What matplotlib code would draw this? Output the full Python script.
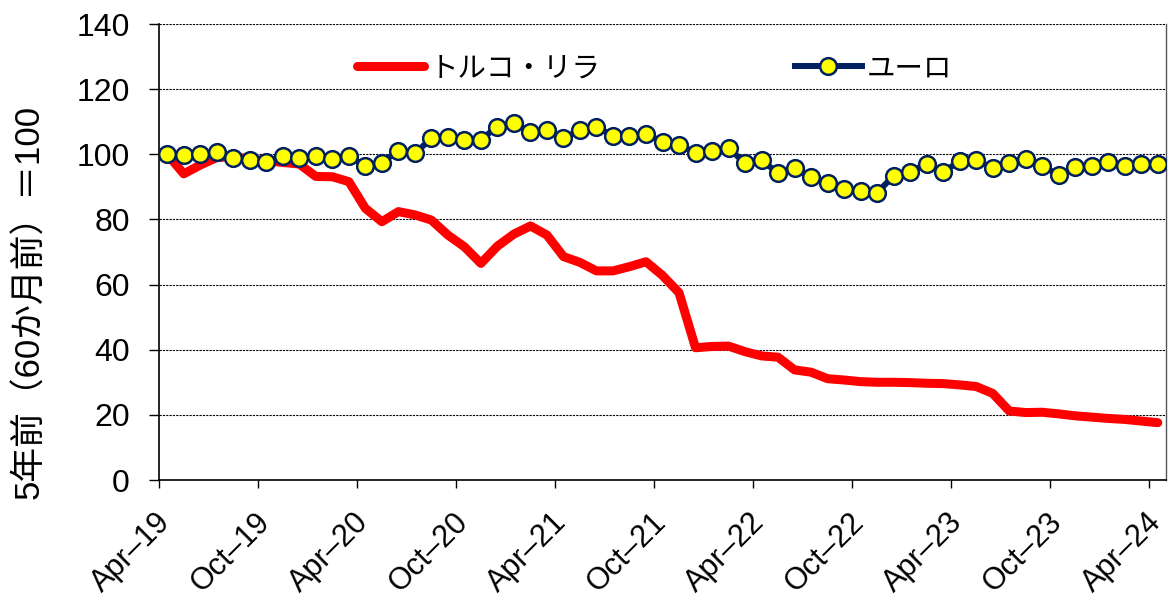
import matplotlib
matplotlib.use("Agg")
import matplotlib.pyplot as plt
import matplotlib.transforms as mtransforms
import numpy as np

plt.rcParams['font.family'] = ['Liberation Sans', 'Noto Sans CJK JP', 'DejaVu Sans']

# Monthly index, Apr-2019 .. Apr-2024 (61 months), 5 years ago = 100
try_lira = [100.0, 94.0, 96.7, 99.0, 99.3, 98.5, 98.0, 97.5, 97.0, 93.2,
            93.1, 91.6, 83.4, 79.3, 82.4, 81.4, 79.8, 75.2, 71.6, 66.5,
            71.8, 75.5, 78.0, 75.2, 68.6, 66.8, 64.2, 64.2, 65.5, 67.0,
            62.8, 57.5, 40.6, 41.0, 41.1, 39.4, 38.1, 37.7, 33.8, 33.1,
            31.1, 30.7, 30.2, 30.0, 30.0, 29.9, 29.7, 29.6, 29.2, 28.7,
            26.6, 21.2, 20.7, 20.8, 20.3, 19.7, 19.3, 18.9, 18.6, 18.1, 17.6]
euro = [100.0, 99.8, 100.1, 100.6, 99.0, 98.2, 97.7, 99.5, 98.8, 99.6,
        98.5, 99.5, 96.4, 97.4, 101.1, 100.3, 104.9, 105.2, 104.4, 104.5,
        108.5, 109.5, 106.7, 107.5, 104.9, 107.5, 108.5, 105.6, 105.6, 106.1,
        103.9, 102.9, 100.5, 101.0, 102.0, 97.2, 98.2, 94.2, 95.7, 93.0,
        91.1, 89.3, 88.8, 88.2, 93.4, 94.7, 97.0, 94.5, 97.9, 98.2,
        95.7, 97.2, 98.5, 96.4, 93.7, 96.0, 96.5, 97.7, 96.5, 97.0, 97.0]
tick_labels = ['Apr–19', 'Oct–19', 'Apr–20', 'Oct–20', 'Apr–21', 'Oct–21',
               'Apr–22', 'Oct–22', 'Apr–23', 'Oct–23', 'Apr–24']
series_names = ['トルコ・リラ', 'ユーロ']
ylabel = '5年前（60か月前）＝100'

x = np.arange(len(euro))

fig = plt.figure(figsize=(11.69, 6.05), dpi=100)
ax = fig.add_axes([159/1169, 1-480/605, (1166-159)/1169, (480-24)/605])

ax.plot(x, try_lira, color='#FF0000', lw=6.5, solid_capstyle='round',
        solid_joinstyle='round', label=series_names[0], zorder=3)
ax.plot(x, euro, color='#002060', lw=4.3, marker='o', ms=12,
        mfc='#FFFF00', mec='#002060', mew=1.8, label=series_names[1], zorder=4)

ax.set_ylim(0, 140)
ax.set_yticks(np.arange(0, 141, 20))
ax.set_xlim(-0.5, 60.5)
ax.set_xticks(np.arange(len(tick_labels)) * 6 - 0.5)
ax.set_xticklabels(tick_labels, rotation=45, ha='right', va='center',
                   rotation_mode='anchor')
ax.tick_params(axis='x', length=6, width=1, direction='out', labelsize=22, pad=21)
ax.tick_params(axis='y', length=7, width=1, direction='out', labelsize=23, pad=14)
offset = mtransforms.ScaledTranslation(7/100, 0, fig.dpi_scale_trans)
for lab in ax.get_xticklabels():
    lab.set_transform(lab.get_transform() + offset)

ax.yaxis.grid(True, color='black', linestyle=(0, (2, 1)), lw=0.8)
ax.set_axisbelow(True)
for s in ['left', 'bottom']:
    ax.spines[s].set_color('black')
    ax.spines[s].set_linewidth(1.2)
ax.spines['top'].set_visible(False)
ax.spines['right'].set_color('#555555')
ax.spines['right'].set_linewidth(1.0)

fig.text(30/1169, 1-302/605, ylabel, rotation=90, ha='center', va='center',
         fontsize=25)

leg = ax.legend(loc='center left', bbox_to_anchor=(0.197, 0.903), ncol=2,
                frameon=False, handlelength=2.35,
                handletextpad=0.2, columnspacing=6.8, borderpad=0,
                borderaxespad=0,
                prop={'family': ['Noto Sans CJK JP', 'DejaVu Sans'], 'size': 20.5})

fig.savefig('out.png', dpi=100)
